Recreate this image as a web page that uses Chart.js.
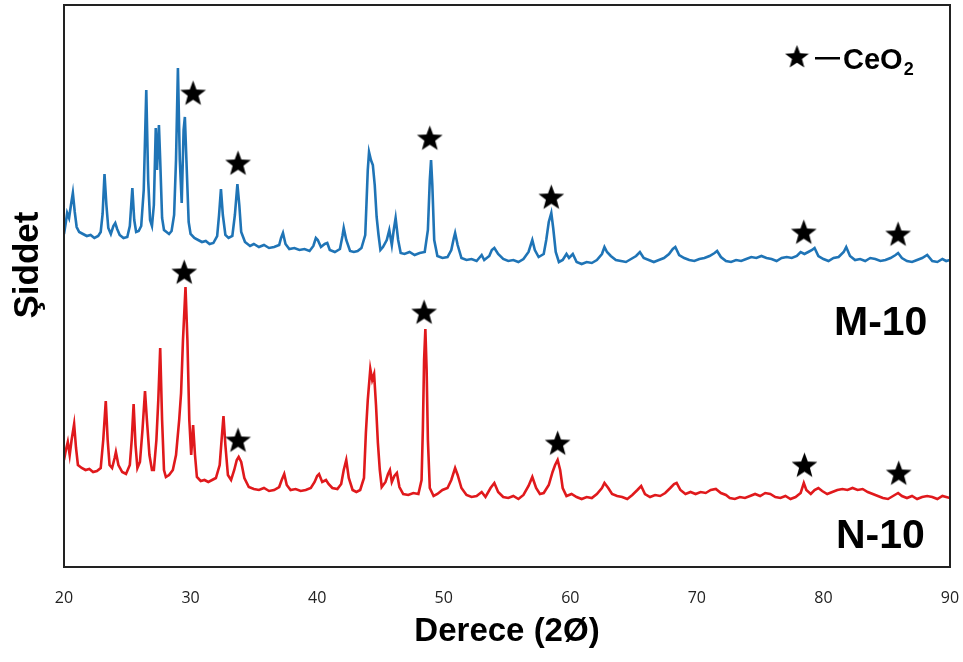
<!DOCTYPE html>
<html>
<head>
<meta charset="utf-8">
<script src="https://cdn.jsdelivr.net/npm/chart.js@4.4.1/dist/chart.umd.min.js"></script>
<style>
  html, body { margin: 0; padding: 0; background: #fff; }
  #wrap { width: 963px; height: 662px; }
</style>
</head>
<body>
<div id="wrap"><canvas id="xrd"></canvas></div>
<script>
// M-10 (blue) pattern, 2theta / intensity (arbitrary units)
const mX = [20.0,20.15,20.25,20.4,20.55,20.7,20.85,21.0,21.2,21.5,21.8,22.1,22.4,22.7,22.9,23.05,23.2,23.35,23.5,23.7,23.9,24.05,24.2,24.4,24.7,25.0,25.2,25.4,25.55,25.7,25.9,26.1,26.3,26.5,26.65,26.8,26.95,27.1,27.25,27.35,27.5,27.6,27.75,27.9,28.1,28.3,28.5,28.7,28.85,29.0,29.15,29.3,29.45,29.55,29.7,29.85,30.0,30.3,30.6,30.9,31.2,31.5,31.8,32.1,32.25,32.4,32.55,32.75,33.0,33.3,33.5,33.7,33.85,34.0,34.3,34.7,35.0,35.4,35.8,36.2,36.6,37.0,37.15,37.3,37.5,37.8,38.2,38.6,39.0,39.4,39.7,39.9,40.05,40.3,40.6,40.8,41.0,41.4,41.8,42.0,42.1,42.3,42.6,42.9,43.2,43.5,43.8,43.9,44.0,44.1,44.25,44.4,44.55,44.7,44.85,45.0,45.2,45.5,45.7,45.9,46.05,46.2,46.4,46.6,46.9,47.3,47.7,48.1,48.5,48.75,48.9,49.0,49.1,49.25,49.5,49.9,50.3,50.6,50.8,50.9,51.1,51.4,51.8,52.2,52.6,52.8,53.0,53.2,53.6,53.8,54.0,54.3,54.7,55.1,55.5,55.9,56.3,56.7,57.0,57.2,57.5,57.9,58.1,58.3,58.5,58.65,58.85,59.1,59.4,59.7,59.9,60.2,60.5,60.9,61.3,61.7,62.1,62.5,62.7,62.9,63.2,63.6,64.0,64.4,64.8,65.2,65.5,65.8,66.2,66.6,67.0,67.4,67.8,68.1,68.3,68.6,69.0,69.4,69.8,70.2,70.6,71.0,71.4,71.6,71.9,72.3,72.7,73.1,73.5,73.9,74.3,74.7,75.1,75.5,75.9,76.3,76.7,77.1,77.5,77.9,78.2,78.5,78.8,79.1,79.3,79.6,80.0,80.4,80.8,81.2,81.6,81.8,82.1,82.5,82.9,83.3,83.7,84.1,84.5,84.9,85.3,85.7,85.9,86.2,86.6,87.0,87.4,87.8,88.2,88.6,89.0,89.4,89.7,90.0];
const mY = [333,345,354,349,362,374,355,340,335,333,331,332,329,331,335,353,393,362,339,333,341,344,338,332,329,330,341,379,347,335,336,341,377,477,387,347,341,362,439,397,442,407,349,337,335,333,336,352,407,499,407,364,437,450,397,345,333,329,327,325,326,323,324,331,352,378,352,332,329,331,352,383,362,335,325,321,323,320,322,319,320,322,329,334,323,318,319,317,318,316,321,329,327,320,323,324,317,315,318,331,339,327,316,315,316,319,332,364,397,415,407,402,382,350,332,317,320,327,337,322,337,349,327,314,313,315,312,314,315,337,387,407,382,327,311,309,310,317,329,334,322,309,307,308,306,309,312,307,311,317,319,313,308,306,307,305,308,315,327,317,310,313,327,345,354,339,315,305,307,313,309,313,305,303,305,304,307,313,320,315,311,307,306,305,308,311,315,309,307,305,307,309,313,318,320,312,309,307,306,308,309,311,314,316,310,306,305,307,306,308,310,309,311,309,308,306,309,310,309,311,315,313,315,317,319,311,308,306,309,310,315,320,311,307,308,306,309,308,306,307,309,312,314,309,306,305,307,309,312,306,305,308,306,307];

// N-10 (red) pattern
const nX = [20.0,20.15,20.3,20.45,20.6,20.8,20.95,21.1,21.4,21.7,22.0,22.3,22.6,22.9,23.1,23.3,23.45,23.6,23.8,24.0,24.1,24.3,24.6,24.9,25.2,25.35,25.5,25.65,25.8,26.0,26.2,26.4,26.55,26.75,26.95,27.1,27.3,27.45,27.6,27.75,27.9,28.05,28.3,28.6,28.85,29.1,29.25,29.4,29.6,29.75,29.9,30.05,30.2,30.35,30.5,30.8,31.1,31.4,31.7,32.0,32.3,32.45,32.6,32.75,32.95,33.2,33.45,33.65,33.8,34.0,34.25,34.6,35.0,35.4,35.8,36.2,36.6,37.0,37.2,37.4,37.6,37.9,38.3,38.7,39.1,39.5,39.8,40.0,40.15,40.4,40.7,40.9,41.2,41.6,41.9,42.1,42.3,42.5,42.8,43.1,43.4,43.7,43.85,44.0,44.2,44.35,44.5,44.65,44.8,44.95,45.1,45.4,45.6,45.75,45.9,46.1,46.3,46.5,46.8,47.2,47.6,48.0,48.25,48.35,48.45,48.55,48.65,48.75,48.9,49.2,49.5,49.9,50.3,50.6,50.9,51.1,51.4,51.8,52.2,52.6,53.0,53.3,53.7,54.0,54.3,54.7,55.1,55.5,55.9,56.3,56.7,57.0,57.3,57.6,57.9,58.3,58.6,58.8,59.0,59.2,59.4,59.7,60.1,60.5,60.9,61.3,61.7,62.1,62.5,62.7,63.0,63.3,63.7,64.1,64.5,64.9,65.3,65.6,65.9,66.3,66.7,67.1,67.5,67.9,68.2,68.4,68.7,69.1,69.5,69.9,70.3,70.7,71.1,71.5,71.9,72.3,72.6,73.0,73.4,73.8,74.2,74.6,75.0,75.4,75.8,76.2,76.6,77.0,77.4,77.8,78.2,78.45,78.65,79.0,79.3,79.6,79.9,80.3,80.7,81.1,81.5,81.9,82.3,82.7,83.1,83.5,83.9,84.3,84.7,85.1,85.5,85.9,86.2,86.6,87.0,87.4,87.8,88.2,88.6,89.0,89.4,89.7,90.0];
const nY = [107,117,125,112,127,143,119,102,99,97,98,95,96,99,127,166,127,102,99,109,115,102,95,93,102,127,163,122,99,105,137,176,147,112,97,97,127,167,219,147,97,90,92,97,112,147,174,227,280,227,147,112,142,112,90,86,87,85,87,89,102,127,151,122,92,87,97,107,110,105,89,80,78,77,79,76,77,80,87,93,82,77,78,76,77,79,85,91,93,85,87,83,79,78,83,97,107,89,77,75,77,89,134,167,198,187,193,162,124,97,80,85,93,97,85,91,94,80,73,72,74,73,87,137,207,238,197,127,79,71,73,77,79,87,99,92,79,72,70,71,75,70,79,84,75,70,69,71,68,72,81,90,79,73,74,82,95,102,107,97,79,71,73,70,68,70,69,73,79,84,79,73,71,70,68,72,77,81,73,70,72,71,74,79,83,84,77,73,75,73,75,74,77,78,74,72,69,68,70,69,71,73,71,74,73,70,69,71,68,70,74,84,77,73,77,79,76,73,75,77,78,77,79,77,78,75,73,71,69,68,71,74,71,69,71,68,70,71,70,68,71,70,69];

// CeO2 peak markers
const starMX = [30.2, 33.75, 48.9, 58.5, 78.45, 85.9];
const starMY = [474, 404, 429, 370, 335, 333];
const starNX = [29.5, 33.75, 48.45, 59.0, 78.5, 85.95];
const starNY = [295, 127, 255, 124, 102, 94];

const xMin = 20, xMax = 90, xStep = 10;
const yMax = 562;

const pts = (xs, ys) => xs.map((x, i) => ({ x: x, y: ys[i] }));

// filled five point star used as point style
function makeStar(size) {
  const c = document.createElement('canvas');
  c.width = size; c.height = size;
  const g = c.getContext('2d');
  const cx = size / 2, cy = size / 2 + size * 0.04;
  const ro = size / 2, ri = ro * 0.42;
  g.beginPath();
  for (let i = 0; i < 10; i++) {
    const r = i % 2 ? ri : ro;
    const a = -Math.PI / 2 + i * Math.PI / 5;
    g.lineTo(cx + r * Math.cos(a), cy + r * Math.sin(a));
  }
  g.closePath();
  g.fillStyle = '#000';
  g.fill();
  return c;
}
const starImg = makeStar(27);
const legendStar = makeStar(25);

const decor = {
  id: 'decor',
  afterDraw(chart) {
    const ctx = chart.ctx;
    const a = chart.chartArea;
    ctx.save();
    // frame
    ctx.strokeStyle = '#222';
    ctx.lineWidth = 2;
    ctx.strokeRect(a.left, a.top, a.right - a.left, a.bottom - a.top);
    // y title
    ctx.fillStyle = '#000';
    ctx.font = 'bold 35px "Liberation Sans", Arial, sans-serif';
    ctx.textAlign = 'center';
    ctx.textBaseline = 'middle';
    ctx.save();
    ctx.translate(28, 265);
    ctx.rotate(-Math.PI / 2);
    ctx.fillText('Şiddet', 0, 0);
    ctx.restore();
    // legend: star - CeO2
    ctx.drawImage(legendStar, 797 - 12.5, 57 - 13);
    ctx.fillRect(815, 57, 25, 2.5);
    ctx.textAlign = 'left';
    ctx.textBaseline = 'alphabetic';
    ctx.font = 'bold 29px "Liberation Sans", Arial, sans-serif';
    ctx.fillText('CeO', 843, 69);
    const w = ctx.measureText('CeO').width;
    ctx.font = 'bold 18px "Liberation Sans", Arial, sans-serif';
    ctx.fillText('2', 843 + w + 1, 75);
    // sample labels
    ctx.font = 'bold 41px "Liberation Sans", Arial, sans-serif';
    ctx.fillText('M-10', 834, 335);
    ctx.fillText('N-10', 836, 548);
    ctx.restore();
  }
};

const ctx = document.getElementById('xrd');
const xrdChart = new Chart(ctx, {
  type: 'line',
  data: {
    datasets: [
      {
        label: 'CeO2 M',
        type: 'scatter',
        data: pts(starMX, starMY),
        pointStyle: starImg,
        order: 0,
      },
      {
        label: 'CeO2 N',
        type: 'scatter',
        data: pts(starNX, starNY),
        pointStyle: starImg,
        order: 0,
      },
      {
        label: 'M-10',
        data: pts(mX, mY),
        borderColor: '#1f74b6',
        borderWidth: 2.6,
        pointRadius: 0,
        tension: 0,
        order: 1,
      },
      {
        label: 'N-10',
        data: pts(nX, nY),
        borderColor: '#e0191c',
        borderWidth: 2.6,
        pointRadius: 0,
        tension: 0,
        order: 1,
      },
    ]
  },
  options: {
    responsive: true,
    maintainAspectRatio: false,
    animation: false,
    layout: { padding: { left: 0, right: 13, top: 5, bottom: 0 } },
    plugins: {
      legend: { display: false },
      tooltip: { enabled: false },
    },
    scales: {
      x: {
        type: 'linear',
        min: xMin,
        max: xMax,
        grid: { display: false },
        border: { display: false },
        ticks: {
          stepSize: xStep,
          padding: 14,
          color: '#222',
          font: { family: '"Open Sans", sans-serif', size: 16 },
        },
        title: {
          display: true,
          text: 'Derece (2Ø)',
          color: '#000',
          padding: { top: 4, bottom: 10 },
          font: { family: '"Liberation Sans", Arial, sans-serif', size: 33, weight: 'bold' },
        },
        afterFit: function (s) { s.height = 95; s.paddingLeft = 0; s.paddingRight = 0; },
      },
      y: {
        min: 0,
        max: yMax,
        grid: { display: false },
        border: { display: false },
        ticks: { display: false },
        afterFit: function (s) { s.width = 64; s.paddingTop = 0; s.paddingBottom = 0; },
      }
    }
  },
  plugins: [decor],
});
</script>
</body>
</html>
